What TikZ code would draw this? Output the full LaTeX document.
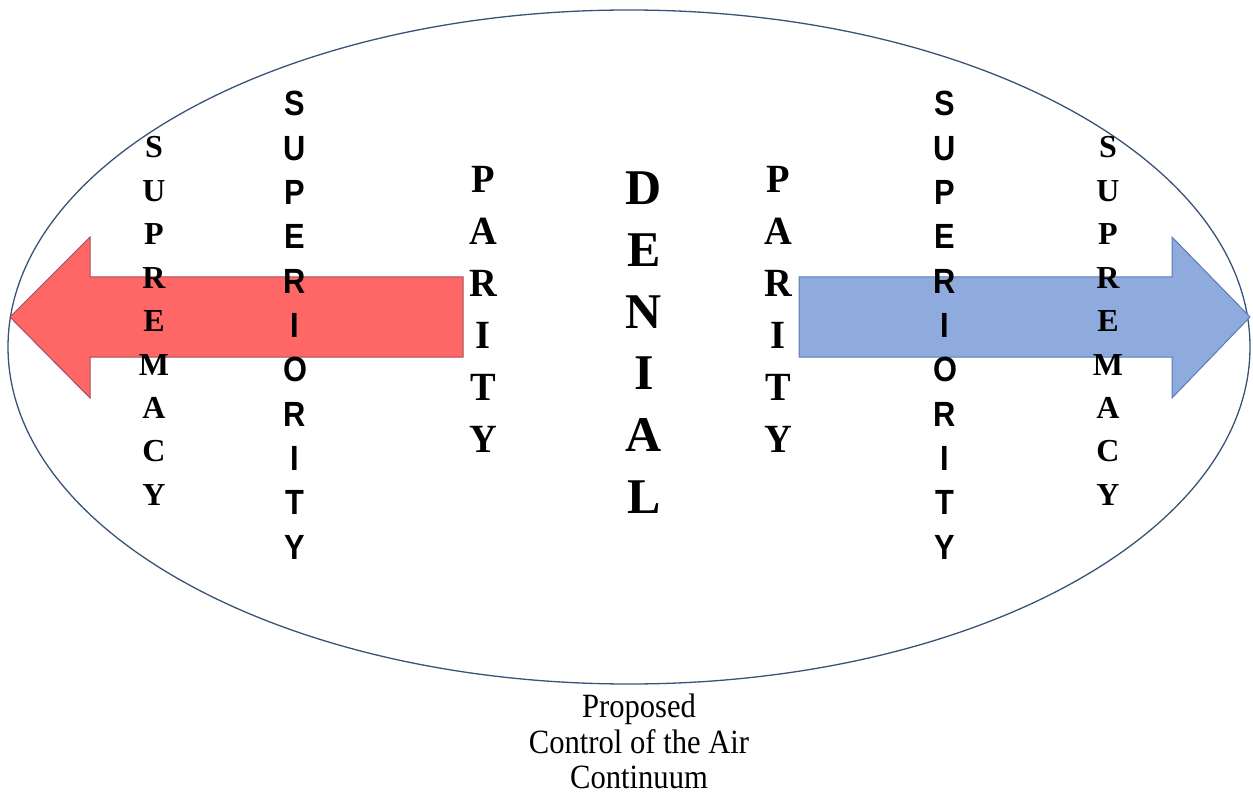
\documentclass[tikz,border=0pt]{standalone}
\usepackage{fontspec}
\setmainfont{Liberation Serif}
\newfontfamily\arialfont{Liberation Sans}
\definecolor{redfill}{HTML}{FF6666}
\definecolor{redline}{HTML}{A0505E}
\definecolor{bluefill}{HTML}{8FAADC}
\definecolor{blueline}{HTML}{5A7DB5}
\definecolor{ellline}{HTML}{3A5478}
\begin{document}
\begin{tikzpicture}[x=1pt,y=-1pt,
  letter/.style={anchor=base, inner sep=0pt},
  supr/.style={letter, font=\fontsize{32}{32}\selectfont\bfseries},
  supe/.style={letter, xscale=0.88, font=\fontsize{35}{35}\selectfont\arialfont\bfseries},
  pari/.style={letter, xscale=0.96, font=\fontsize{40}{40}\selectfont\bfseries},
  deni/.style={letter, font=\fontsize{50}{50}\selectfont\bfseries},
  capt/.style={letter, xscale=0.9, font=\fontsize{34}{34}\selectfont},
  ellipseline/.style={draw=ellline, line width=1.3pt},
  redarrow/.style={fill=redfill, draw=redline, line width=1pt, line join=miter},
  bluearrow/.style={fill=bluefill, draw=blueline, line width=1pt, line join=miter}]
\useasboundingbox (0,0) rectangle (1253,794);
\fill[white] (0,0) rectangle (1253,794);
% ellipse
\draw[ellipseline] (629,347) ellipse [x radius=621, y radius=337];
% arrows
\draw[redarrow] (10,317) -- (90,237) -- (90,277) -- (463,277) -- (463,357) -- (90,357) -- (90,398) -- cycle;
\draw[bluearrow] (1250,317) -- (1172,237) -- (1172,277) -- (799,277) -- (799,357) -- (1172,357) -- (1172,398) -- cycle;
% SUPREMACY
\foreach \l [count=\i from 0] in {S,U,P,R,E,M,A,C,Y} {
  \node[supr] (supremL\i) at (154,{158+43.4*\i}) {\l};
  \node[supr] (supremR\i) at (1108,{158+43.4*\i}) {\l};
}
% SUPERIORITY
\foreach \l [count=\i from 0] in {S,U,P,E,R,I,O,R,I,T,Y} {
  \node[supe] (superL\i) at (295,{116+44.3*\i}) {\l};
  \node[supe] (superR\i) at (945,{116+44.3*\i}) {\l};
}
% PARITY
\foreach \l [count=\i from 0] in {P,A,R,I,T,Y} {
  \node[pari] (parL\i) at (483,{193+51.9*\i}) {\l};
  \node[pari] (parR\i) at (778,{193+51.9*\i}) {\l};
}
% DENIAL
\foreach \l [count=\i from 0] in {D,E,N,I,A,L} {
  \node[deni] (den\i) at (644,{205+61.6*\i}) {\l};
}
% caption
\node[capt] (cap1) at (639,717) {Proposed};
\node[capt] (cap2) at (639,753) {Control of the Air};
\node[capt] (cap3) at (639,788) {Continuum};
\end{tikzpicture}
\end{document}
